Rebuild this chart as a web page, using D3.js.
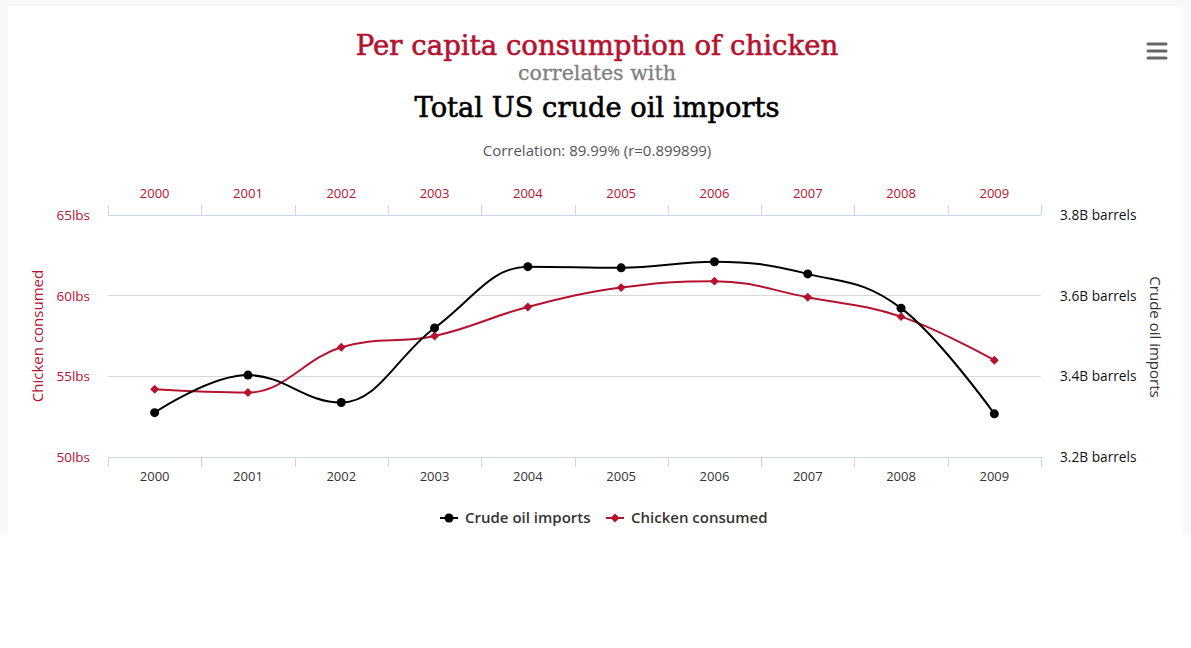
<!DOCTYPE html>
<html><head><meta charset="utf-8">
<script src="https://cdn.jsdelivr.net/npm/d3@7"></script>
<style>body{margin:0;background:#fff;}svg{display:block;}</style>
</head><body>
<svg id="c" width="1191" height="648"></svg>
<script>
const years = ["2000","2001","2002","2003","2004","2005","2006","2007","2008","2009"];
const chicken = [54.2, 54.0, 56.8, 57.5, 59.3, 60.5, 60.9, 59.9, 58.7, 56.0];
const crudeOil = [3.31, 3.403, 3.335, 3.52, 3.672, 3.669, 3.684, 3.654, 3.569, 3.307];
const leftTicks = [50, 55, 60, 65];
const rightTicks = [3.2, 3.4, 3.6, 3.8];

const RED = "#b5122f", DARK = "#333333";
const svg = d3.select("#c");
const sans = "'Open Sans', 'Noto Sans', sans-serif";
const serif = "'DejaVu Serif', 'Liberation Serif', serif";

// background frame
svg.append("rect").attr("x",0).attr("y",0).attr("width",1191).attr("height",535).attr("fill","#f8f8f8");
svg.append("rect").attr("x",8).attr("y",6).attr("width",1175).attr("height",529).attr("fill","#fff");

const L = 108, R = 1041, T = 215, B = 457;
const x = d3.scaleBand().domain(years).range([L, R]);
const yL = d3.scaleLinear().domain([50, 65]).range([B, T]);
const yR = d3.scaleLinear().domain([3.2, 3.8]).range([B, T]);

// titles
function fitText(sel, target) {
  const w = sel.node().getComputedTextLength();
  const fs = parseFloat(sel.attr("font-size"));
  sel.attr("font-size", fs * target / w);
}
const t1 = svg.append("text").attr("x",597).attr("y",55).attr("text-anchor","middle")
  .attr("font-family",serif).attr("font-size",30).attr("fill",RED).attr("stroke",RED).attr("stroke-width",0.6)
  .text("Per capita consumption of chicken");
fitText(t1, 483);
const t2 = svg.append("text").attr("x",597).attr("y",80).attr("text-anchor","middle")
  .attr("font-family",serif).attr("font-size",20).attr("fill","#808080").attr("stroke","#808080").attr("stroke-width",0.3)
  .text("correlates with");
fitText(t2, 158);
const t3 = svg.append("text").attr("x",597).attr("y",117).attr("text-anchor","middle")
  .attr("font-family",serif).attr("font-size",30).attr("fill","#000").attr("stroke","#000").attr("stroke-width",0.6)
  .text("Total US crude oil imports");
fitText(t3, 365);
svg.append("text").attr("x",597).attr("y",156).attr("text-anchor","middle")
  .attr("font-family",sans).attr("font-size",15).attr("fill","#555").text("Correlation: 89.99% (r=0.899899)");

// menu icon
[44,51,58].forEach(yy => svg.append("line").attr("x1",1148).attr("x2",1166).attr("y1",yy).attr("y2",yy)
  .attr("stroke","#666").attr("stroke-width",3).attr("stroke-linecap","round"));

// gridlines
svg.append("g").selectAll("line").data(leftTicks.filter(d => d !== 50 && d !== 65)).join("line")
  .attr("x1",L).attr("x2",R).attr("y1",d=>yL(d)).attr("y2",d=>yL(d))
  .attr("stroke","#d8d8d8").attr("stroke-width",1).attr("shape-rendering","crispEdges");

// x axes
const bounds = years.map(y => x(y)).concat([R]);
const axisCol = "#ccd6eb";
[[T, -10], [B, 10]].forEach(([yy, dir]) => {
  svg.append("line").attr("x1",L).attr("x2",R).attr("y1",yy+0.5).attr("y2",yy+0.5).attr("stroke",axisCol).attr("stroke-width",1);
  svg.append("g").selectAll("line").data(bounds).join("line")
    .attr("x1",d=>Math.round(d)+0.5).attr("x2",d=>Math.round(d)+0.5).attr("y1",yy).attr("y2",yy+dir)
    .attr("stroke",axisCol).attr("stroke-width",1);
});
svg.append("g").selectAll("text").data(years).join("text")
  .attr("x",d=>x(d)+x.bandwidth()/2).attr("y",198).attr("text-anchor","middle")
  .attr("font-family",sans).attr("font-size",13).attr("fill",RED).text(d=>d);
svg.append("g").selectAll("text").data(years).join("text")
  .attr("x",d=>x(d)+x.bandwidth()/2).attr("y",481).attr("text-anchor","middle")
  .attr("font-family",sans).attr("font-size",13).attr("fill",DARK).text(d=>d);

// y labels
svg.append("g").selectAll("text").data(leftTicks).join("text")
  .attr("x",90).attr("y",d=>yL(d)+5).attr("text-anchor","end")
  .attr("font-family",sans).attr("font-size",13.5).attr("fill",RED).text(d=>d+"lbs");
svg.append("g").selectAll("text").data(rightTicks).join("text")
  .attr("x",1060).attr("y",d=>yR(d)+5).attr("text-anchor","start")
  .attr("font-family",sans).attr("font-size",13.7).attr("fill","#111").text(d=>d.toFixed(1)+"B barrels");

svg.append("text").attr("transform","translate(43,336) rotate(-90)").attr("text-anchor","middle")
  .attr("font-family",sans).attr("font-size",15).attr("fill",RED).text("Chicken consumed");
svg.append("text").attr("transform","translate(1150,337) rotate(90)").attr("text-anchor","middle")
  .attr("font-family",sans).attr("font-size",15).attr("fill",DARK).text("Crude oil imports");

// Highcharts-like spline
function spline(pts) {
  const p = d3.path();
  const sm = 1.5, den = 2.5;
  const rc = [];
  pts.forEach((pt, i) => {
    const [px, py] = pt;
    if (i === 0) { p.moveTo(px, py); rc[i] = [px, py]; return; }
    const last = pts[i-1], next = pts[i+1];
    let lcx = px, lcy = py;
    if (next) {
      lcx = (sm*px + last[0])/den; lcy = (sm*py + last[1])/den;
      let rcx = (sm*px + next[0])/den, rcy = (sm*py + next[1])/den;
      let corr = 0;
      if (rcx !== lcx) corr = ((rcy - lcy)*(rcx - px))/(rcx - lcx) + py - rcy;
      lcy += corr; rcy += corr;
      if (lcy > last[1] && lcy > py) { lcy = Math.max(last[1], py); rcy = 2*py - lcy; }
      else if (lcy < last[1] && lcy < py) { lcy = Math.min(last[1], py); rcy = 2*py - lcy; }
      if (rcy > next[1] && rcy > py) { rcy = Math.max(next[1], py); lcy = 2*py - rcy; }
      else if (rcy < next[1] && rcy < py) { rcy = Math.min(next[1], py); lcy = 2*py - rcy; }
      rc[i] = [rcx, rcy];
    }
    p.bezierCurveTo(rc[i-1][0], rc[i-1][1], lcx, lcy, px, py);
  });
  return p.toString();
}

const cx = d => x(d) + x.bandwidth()/2;
const oilPts = years.map((y,i) => [cx(y), yR(crudeOil[i])]);
const chPts = years.map((y,i) => [cx(y), yL(chicken[i])]);

svg.append("path").attr("d", spline(chPts)).attr("fill","none").attr("stroke",RED).attr("stroke-width",2);
svg.append("path").attr("d", spline(oilPts)).attr("fill","none").attr("stroke","#000").attr("stroke-width",2);

const dia = d3.symbol().type(d3.symbolSquare).size(40);
svg.append("g").selectAll("path").data(chPts).join("path")
  .attr("d",dia).attr("transform",d=>`translate(${d[0]},${d[1]}) rotate(45)`)
  .attr("fill",RED);
svg.append("g").selectAll("circle").data(oilPts).join("circle")
  .attr("cx",d=>d[0]).attr("cy",d=>d[1]).attr("r",4.5).attr("fill","#000");

// legend
const lg = svg.append("g");
lg.append("line").attr("x1",440).attr("x2",458).attr("y1",518).attr("y2",518).attr("stroke","#000").attr("stroke-width",2);
lg.append("circle").attr("cx",449).attr("cy",518).attr("r",4.5).attr("fill","#000");
lg.append("text").attr("x",465).attr("y",523).attr("font-family",sans).attr("font-size",15).attr("font-weight",600)
  .attr("fill",DARK).text("Crude oil imports");
lg.append("line").attr("x1",606).attr("x2",624).attr("y1",518).attr("y2",518).attr("stroke",RED).attr("stroke-width",2);
lg.append("path").attr("d",dia).attr("transform","translate(615,518) rotate(45)").attr("fill",RED);
lg.append("text").attr("x",631).attr("y",523).attr("font-family",sans).attr("font-size",15).attr("font-weight",600)
  .attr("fill",DARK).text("Chicken consumed");
</script>
</body></html>
